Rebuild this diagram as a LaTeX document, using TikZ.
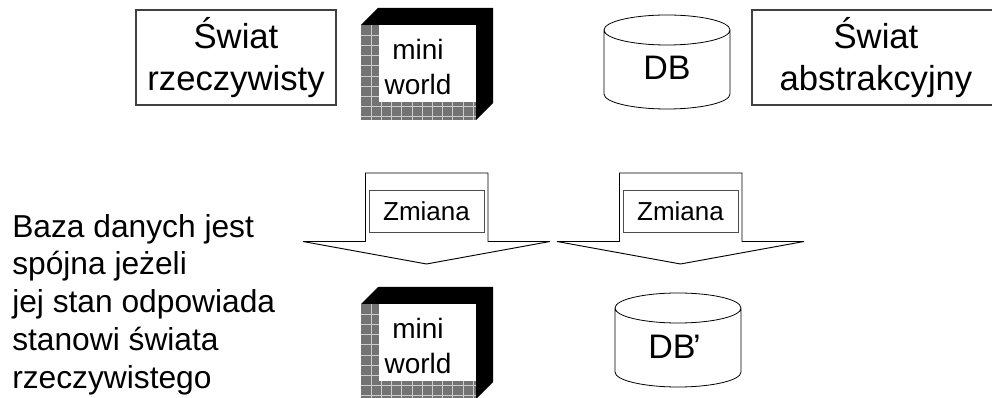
\documentclass[tikz,border=0pt]{standalone}
\usepackage{fontspec}
\setmainfont{Liberation Sans}
\usetikzlibrary{positioning}

\tikzset{
  world/.style={draw=black!75,line width=.8pt,align=center,inner sep=0pt,font=\fontsize{26}{31.5}\selectfont},
  label/.style={inner sep=0pt,align=left,font=\fontsize{23.8}{28.3}\selectfont},
  drumtext/.style={inner sep=0pt,font=\fontsize{25.5}{30}\selectfont},
  cubetext/.style={inner sep=0pt,align=center,font=\fontsize{21}{26.25}\selectfont},
  change/.style={draw=black!70,line width=.7pt,inner sep=0pt,minimum width=86.25pt,minimum height=31.5pt,font=\fontsize{19.5}{22}\selectfont}
}

% x y: corner of the cube face, name
\newcommand{\cube}[3]{
  \fill[black] (#1,#2) -- ++(17,-17) -- ++(115,0) -- ++(0,95) -- ++(-17,17) -- ++(0,-95) -- cycle;
  \fill[black!55] (#1,#2) rectangle ++(115,95);
  \begin{scope}
    \clip (#1,#2) rectangle ++(115,95);
    \foreach \i in {1,...,11}
      \draw[white!80!black,line width=.5pt] (#1+\i*10.2,#2) -- ++(0,95);
    \foreach \i in {1,...,9}
      \draw[white!80!black,line width=.5pt] (#1,#2+\i*10.2) -- ++(115,0);
  \end{scope}
  \fill[white] (#1+18,#2) rectangle ++(97,77);
  \node[cubetext] (#3) at (#1+57,#2+42) {mini\\world};
}
% x y: top left of the cylinder
\newcommand{\drum}[2]{
  \draw[line width=.6pt] (#1+63,#2+15) ellipse[x radius=63,y radius=15]
    (#1,#2+15) -- ++(0,64) arc[x radius=63,y radius=15,start angle=180,end angle=0] -- ++(0,-64);
}
% x: left end of the head
\newcommand{\fall}[1]{
  \draw[line width=.7pt] (#1+62.5,173) -- (#1+62.5,241.5) -- (#1,241.5) -- (#1+123.5,264) -- (#1+247,241.5) -- (#1+185,241.5) -- (#1+185,173) -- cycle;
}

\begin{document}
\begin{tikzpicture}[x=.75pt,y=-.75pt]
  \useasboundingbox (0,0) rectangle (992,398);
  \node[world,minimum width=150pt,minimum height=71.25pt] (real) at (236,57.5) {Świat\\rzeczywisty};
  \node[world,minimum width=186pt,minimum height=71.25pt] (abstract) at (876,57.5) {Świat\\abstrakcyjny};
  \cube{361}{25}{mini1}
  \drum{604}{15}
  \node[drumtext] (db) at (667,67.5) {DB};

  \fall{303}
  \fall{557}
  \node[change] (zmiana1) at (426.5,211) {Zmiana\hspace{8pt}};
  \node[change] (zmiana2) at (680.5,211) {Zmiana\hspace{8pt}};

  \cube{361}{304}{mini2}
  \drum{615}{293}
  \node[drumtext] (dbnew) at (674.5,347) {DB\kern-2pt’};

  \node[label,anchor=west] (note) at (12,304.5)
    {Baza danych jest\\spójna jeżeli\\jej stan odpowiada\\stanowi świata\\rzeczywistego};
\end{tikzpicture}
\end{document}
